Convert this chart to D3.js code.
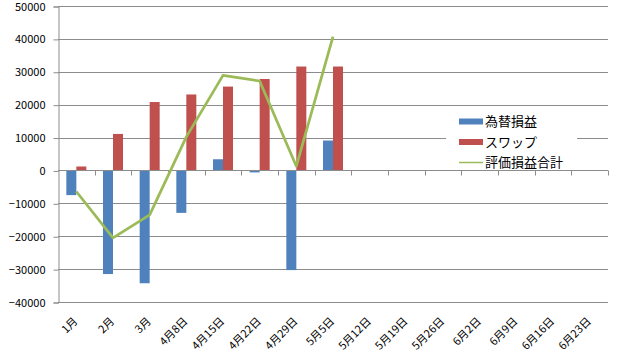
<!DOCTYPE html>
<html>
<head>
<meta charset="utf-8">
<script src="https://cdn.jsdelivr.net/npm/d3@7"></script>
<style>
  body { margin: 0; background: #fff; }
  text { font-family: "Noto Sans CJK JP", "DejaVu Sans", sans-serif; }
</style>
</head>
<body>
<svg class="chart" width="640" height="362"></svg>
<script>
const categories = ['1月', '2月', '3月', '4月8日', '4月15日', '4月22日', '4月29日', '5月5日',
  '5月12日', '5月19日', '5月26日', '6月2日', '6月9日', '6月16日', '6月23日'];
const fxValues = [-7500, -31500, -34300, -12900, 3400, -600, -30300, 9100];
const swapValues = [1200, 11100, 20800, 23100, 25500, 27800, 31600, 31600];
const totalValues = [-6400, -20500, -13500, 10200, 28900, 27200, 1300, 40700];
const yTicks = [-40000, -30000, -20000, -10000, 0, 10000, 20000, 30000, 40000, 50000];
const seriesNames = ['為替損益', 'スワップ', '評価損益合計'];
const colors = ['#4F81BD', '#C0504D', '#9BBB59'];

const plotLeft = 58, plotRight = 608, plotTop = 6, plotBottom = 302;

const x = d3.scaleBand()
  .domain(categories)
  .range([plotLeft, plotRight]);

const y = d3.scaleLinear()
  .domain([-40000, 50000])
  .range([plotBottom, plotTop]);

const barW = 10;

const svg = d3.select('svg.chart');

// gridlines
svg.selectAll('.grid')
  .data(yTicks.filter(d => d !== 0))
  .enter()
  .append('line')
  .attr('class', 'grid')
  .attr('x1', plotLeft)
  .attr('x2', plotRight)
  .attr('y1', d => Math.round(y(d)) + 0.5)
  .attr('y2', d => Math.round(y(d)) + 0.5)
  .attr('stroke', '#8c8c8c')
  .attr('stroke-width', 1);

// y axis
const yAxis = svg.append('g')
  .attr('transform', `translate(${plotLeft + 0.5},0.5)`)
  .call(d3.axisLeft(y).tickValues(yTicks).tickSize(5).tickPadding(8).tickFormat(d3.format('d')));
yAxis.select('.domain').attr('stroke', '#8c8c8c');
yAxis.selectAll('.tick line').attr('stroke', '#8c8c8c');
yAxis.selectAll('.tick text').attr('font-size', 11).attr('fill', '#000')
  .attr('font-family', '"Liberation Sans", Arial, sans-serif');

// bars
svg.selectAll('.fx')
  .data(fxValues)
  .enter()
  .append('rect')
  .attr('class', 'fx')
  .attr('x', (d, i) => x(categories[i]) + x.bandwidth() / 2 - barW)
  .attr('y', d => y(Math.max(0, d)))
  .attr('width', barW)
  .attr('height', d => Math.abs(y(d) - y(0)))
  .attr('fill', colors[0]);

svg.selectAll('.swap')
  .data(swapValues)
  .enter()
  .append('rect')
  .attr('class', 'swap')
  .attr('x', (d, i) => x(categories[i]) + x.bandwidth() / 2)
  .attr('y', d => y(Math.max(0, d)))
  .attr('width', barW)
  .attr('height', d => Math.abs(y(d) - y(0)))
  .attr('fill', colors[1]);

// x axis at zero
const xAxis = svg.append('g')
  .attr('transform', `translate(0,${Math.round(y(0)) + 0.5})`);
xAxis.append('line')
  .attr('x1', plotLeft).attr('x2', plotRight)
  .attr('stroke', '#8c8c8c');
xAxis.selectAll('.xtick')
  .data(categories)
  .enter()
  .append('line')
  .attr('class', 'xtick')
  .attr('x1', (d, i) => Math.round(plotLeft + (i + 1) * x.step()) + 0.5)
  .attr('x2', (d, i) => Math.round(plotLeft + (i + 1) * x.step()) + 0.5)
  .attr('y1', 0)
  .attr('y2', 5)
  .attr('stroke', '#8c8c8c');

// line
const line = d3.line()
  .x((d, i) => x(categories[i]) + x.bandwidth() / 2)
  .y(d => y(d));
svg.append('path')
  .datum(totalValues)
  .attr('d', line)
  .attr('fill', 'none')
  .attr('stroke', colors[2])
  .attr('stroke-width', 2.75)
  .attr('stroke-linejoin', 'round');

// x labels
svg.selectAll('.xlabel')
  .data(categories)
  .enter()
  .append('text')
  .attr('class', 'xlabel')
  .attr('text-anchor', 'end')
  .attr('font-size', 11)
  .attr('transform', d => `translate(${x(d) + x.bandwidth() / 2 + 2},${322}) rotate(-45)`)
  .text(d => d);

// legend
const legend = svg.append('g');
legend.append('rect')
  .attr('x', 446).attr('y', 110)
  .attr('width', 131).attr('height', 60)
  .attr('fill', '#fff');
seriesNames.forEach((name, i) => {
  const ly = 121.5 + i * 20.5;
  if (i < 2) {
    legend.append('rect')
      .attr('x', 459).attr('y', ly - 3)
      .attr('width', 24).attr('height', 6)
      .attr('fill', colors[i]);
  } else {
    legend.append('line')
      .attr('x1', 459).attr('x2', 483)
      .attr('y1', ly).attr('y2', ly)
      .attr('stroke', colors[i]).attr('stroke-width', 1.5);
  }
  legend.append('text')
    .attr('x', 485).attr('y', ly + 4.5)
    .attr('font-size', 13)
    .text(name);
});
</script>
</body>
</html>
